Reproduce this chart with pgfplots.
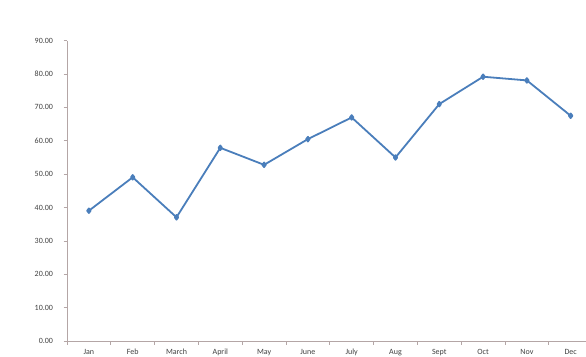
\documentclass[border=0pt]{standalone}
\usepackage{fontspec}
\setmainfont{Carlito}
\usepackage{pgfplots}
\pgfplotsset{compat=1.18}
\definecolor{seriesblue}{HTML}{4A7EBB}
\definecolor{axisgrey}{HTML}{B4A6A6}
\definecolor{labelgrey}{HTML}{404040}
\begin{document}
\begin{tikzpicture}[x=1pt,y=1pt]
\useasboundingbox (0,0) rectangle (586,356);
\begin{axis}[
  at={(67pt,15pt)}, anchor=south west,
  scale only axis, width=519pt, height=300.3pt,
  xmin=-0.5, xmax=11.35, ymin=0, ymax=90,
  axis x line=bottom, axis y line=left,
  axis line style={draw=axisgrey, line width=0.8pt, -},
  tick align=outside,
  tick style={draw=axisgrey, line width=0.6pt},
  major tick length=3.5pt,
  xtick={-0.5,0.5,...,10.5}, xticklabels={},
  extra x ticks={0,1,...,11},
  extra x tick labels={Jan,Feb,March,April,May,June,July,Aug,Sept,Oct,Nov,Dec},
  extra x tick style={major tick length=0pt},
  ytick={0,10,...,90},
  scaled y ticks=false,
  /pgf/number format/fixed,
  /pgf/number format/fixed zerofill,
  /pgf/number format/precision=2,
  /pgf/number format/assume math mode=true,
  x tick label style={yshift=-4.5pt},
  y tick label style={xshift=-7pt},
  tick label style={font=\fontsize{8}{9}\selectfont, text=labelgrey},
]
\addplot[seriesblue, line width=1.8pt, line join=round,
  mark=diamond*, mark size=2.3pt, mark options={solid, fill=seriesblue}]
  coordinates {
  (0,39.05) (1,49.06) (2,37.07) (3,57.9) (4,52.8) (5,60.5)
  (6,67.0) (7,55.0) (8,71.0) (9,79.2) (10,78.1) (11,67.5)
};
\end{axis}
\end{tikzpicture}
\end{document}
